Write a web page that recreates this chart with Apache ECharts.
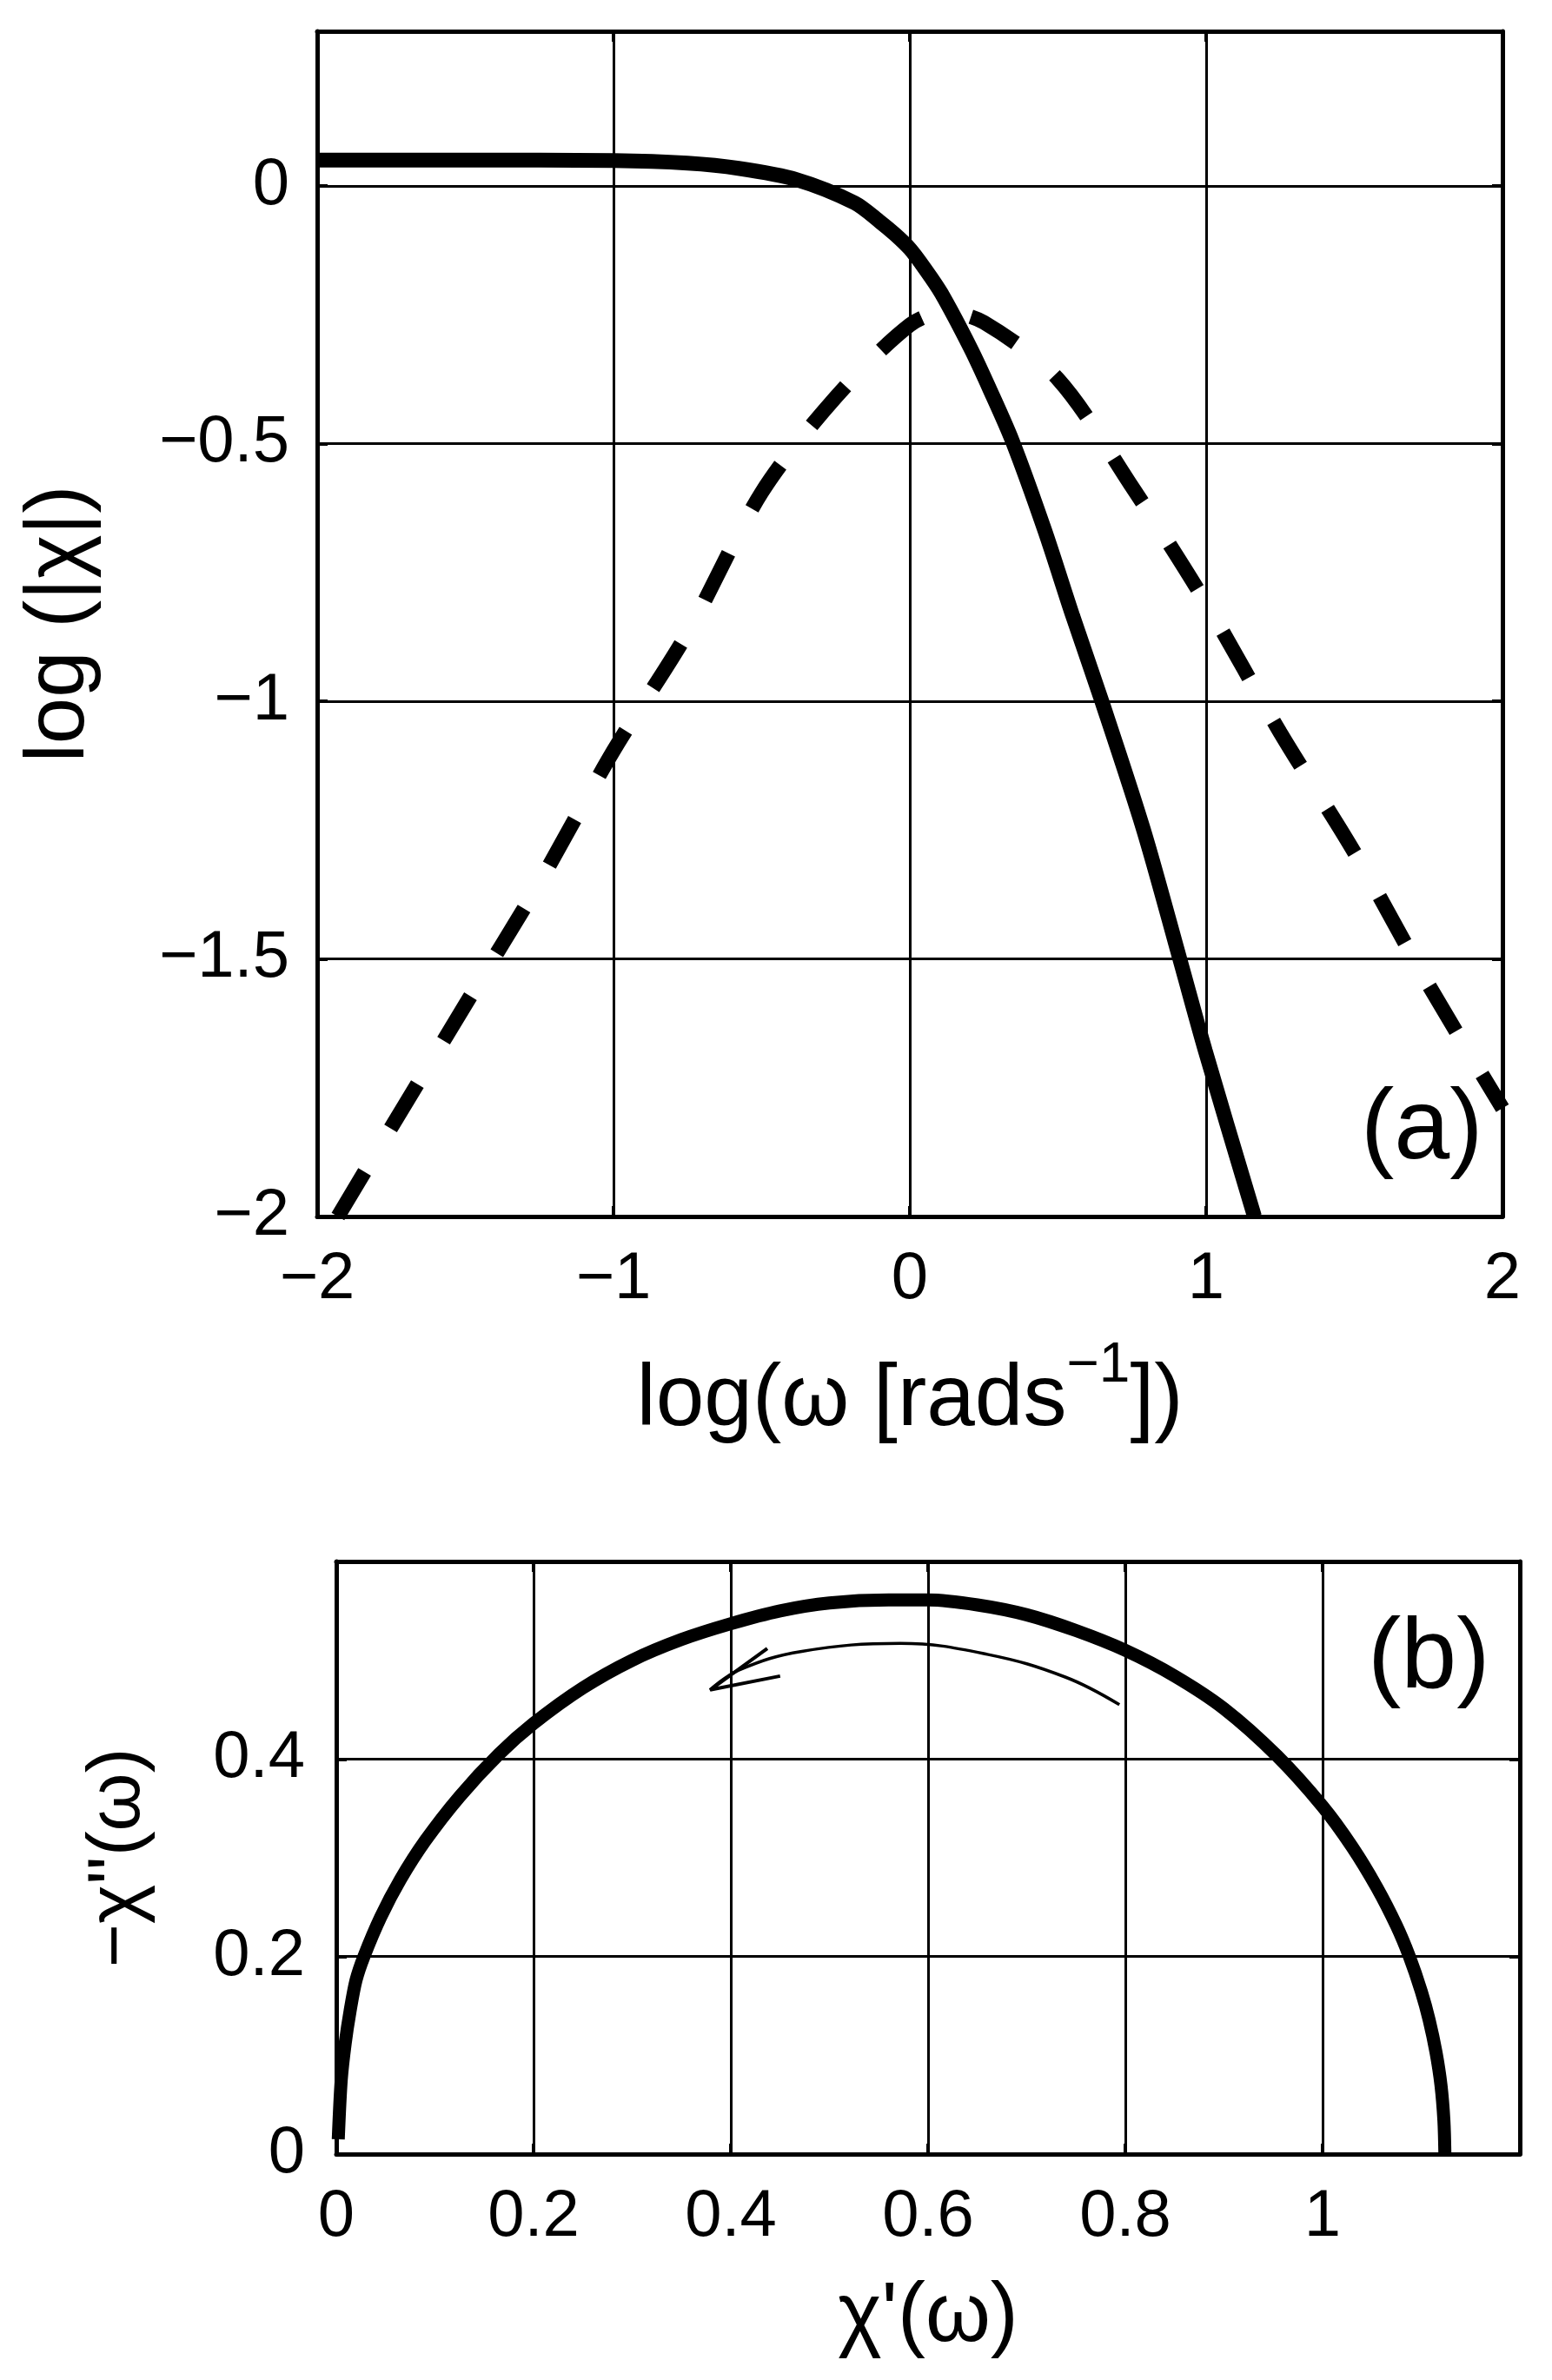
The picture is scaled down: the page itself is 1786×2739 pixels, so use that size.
<!DOCTYPE html>
<html>
<head>
<meta charset="utf-8">
<script src="https://cdn.jsdelivr.net/npm/echarts@6/dist/echarts.min.js"></script>
<style>
  html, body { margin: 0; padding: 0; background: #fff; }
  #main { width: 1786px; height: 2739px; }
</style>
</head>
<body>
<div id="main"></div>
<script>
// panel (a): log|chi| (solid) and log chi'' (dashed) against log(omega)
const magLogW = [-2, -1.5, -1, -0.75, -0.578, -0.381, -0.186, -0.1, -0.05, 0, 0.05, 0.106, 0.205, 0.27, 0.346, 0.455, 0.55, 0.648, 0.789, 0.911, 0.997, 1.163];
const magLogChi = [0.05, 0.05, 0.049, 0.044, 0.034, 0.012, -0.033, -0.07, -0.094, -0.122, -0.16, -0.208, -0.315, -0.395, -0.495, -0.668, -0.835, -1.0, -1.25, -1.5, -1.678, -2.0];

const lossLogW = [-1.93, -1.75, -1.5, -1.25, -1, -0.75, -0.5, -0.25, 0, 0.12, 0.25, 0.5, 0.75, 1, 1.25, 1.5, 1.75, 2];
const lossLogChi = [-2.0, -1.827, -1.589, -1.352, -1.096, -0.867, -0.595, -0.41, -0.27, -0.245, -0.265, -0.375, -0.584, -0.81, -1.061, -1.293, -1.55, -1.79];

// panel (b): Cole-Cole plot
const chiReal = [0.002, 0.005, 0.009, 0.014, 0.02, 0.028, 0.045, 0.065, 0.09, 0.125, 0.165, 0.2, 0.25, 0.3, 0.35, 0.4, 0.45, 0.5, 0.56, 0.6, 0.65, 0.7, 0.75, 0.8, 0.85, 0.9, 0.954, 1.0, 1.03, 1.055, 1.075, 1.088, 1.1, 1.108, 1.115, 1.12, 1.123, 1.124];
const chiImag = [0.015, 0.075, 0.112, 0.145, 0.176, 0.2, 0.24, 0.278, 0.317, 0.362, 0.405, 0.436, 0.472, 0.5, 0.521, 0.537, 0.55, 0.558, 0.561, 0.561, 0.556, 0.546, 0.53, 0.51, 0.484, 0.451, 0.403, 0.352, 0.311, 0.27, 0.231, 0.2, 0.165, 0.136, 0.103, 0.07, 0.034, 0.0];

// arrow drawn inside panel (b), in data units
const arrowReal = [0.794, 0.739, 0.66, 0.572, 0.472, 0.408, 0.379];
const arrowImag = [0.455, 0.483, 0.506, 0.517, 0.509, 0.49, 0.47];
const headReal = [0.437, 0.379, 0.45];
const headImag = [0.512, 0.47, 0.484];

const FONT = '"Liberation Sans", Arial, Helvetica, sans-serif';
const zip = (xs, ys) => xs.map((x, i) => [x, ys[i]]);
const fmt = v => String(+v.toFixed(2)).replace('-', '\u2212');

// axis line + inward ticks, used for every side of both boxes
function boxAxis(opts) {
  return Object.assign({
    type: 'value',
    axisLine: { show: true, onZero: false, lineStyle: { color: '#000', width: 5 } },
    axisTick: { show: true, inside: true, length: 12, lineStyle: { color: '#000', width: 4 } },
    axisLabel: { show: false },
    splitLine: { show: false }
  }, opts);
}

const labelStyle = { show: true, color: '#000', fontSize: 76, fontFamily: FONT, formatter: fmt };
const gridLine = { show: true, lineStyle: { color: '#000', width: 3 } };
const nameStyle = { color: '#000', fontSize: 96, fontFamily: FONT };

const chart = echarts.init(document.getElementById('main'));

const option = {
  animation: false,
  backgroundColor: '#fff',
  grid: [
    { left: 365, top: 36, width: 1364, height: 1364 },
    { left: 387, top: 1797, width: 1362, height: 682 }
  ],
  xAxis: [
    boxAxis({
      gridIndex: 0, position: 'bottom', min: -2, max: 2, interval: 1,
      axisLabel: Object.assign({}, labelStyle, { margin: 35 }),
      splitLine: gridLine,
      name: 'log(ω [rads{sup|−1}])',
      nameLocation: 'middle', nameGap: 140,
      nameTextStyle: Object.assign({}, nameStyle, {
        fontSize: 100,
        lineHeight: 144,
        rich: { sup: { fontSize: 64, fontFamily: FONT, color: '#000', lineHeight: 64, verticalAlign: 'top' } }
      })
    }),
    boxAxis({ gridIndex: 0, position: 'top', min: -2, max: 2, interval: 1 }),
    boxAxis({
      gridIndex: 1, position: 'bottom', min: 0, max: 1.2, interval: 0.2,
      axisLabel: Object.assign({}, labelStyle, { margin: 35, showMaxLabel: false }),
      splitLine: gridLine,
      name: 'χ\'(ω)',
      nameLocation: 'middle', nameGap: 141,
      nameTextStyle: nameStyle
    }),
    boxAxis({ gridIndex: 1, position: 'top', min: 0, max: 1.2, interval: 0.2 })
  ],
  yAxis: [
    boxAxis({
      gridIndex: 0, position: 'left', min: -2, max: 0.3, interval: 0.5,
      axisLabel: Object.assign({}, labelStyle, { margin: 32, showMaxLabel: false }),
      splitLine: gridLine,
      name: 'log (|χ|)',
      nameLocation: 'middle', nameGap: 247,
      nameTextStyle: nameStyle
    }),
    boxAxis({ gridIndex: 0, position: 'right', min: -2, max: 0.3, interval: 0.5 }),
    boxAxis({
      gridIndex: 1, position: 'left', min: 0, max: 0.6, interval: 0.2,
      axisLabel: Object.assign({}, labelStyle, { margin: 36, showMaxLabel: false }),
      splitLine: gridLine,
      name: '−χ\'\'(ω)',
      nameLocation: 'middle', nameGap: 208,
      nameTextStyle: Object.assign({}, nameStyle, { fontSize: 86 })
    }),
    boxAxis({ gridIndex: 1, position: 'right', min: 0, max: 0.6, interval: 0.2 })
  ],
  series: [
    {
      name: '|chi|', type: 'line', xAxisIndex: 0, yAxisIndex: 0,
      data: zip(magLogW, magLogChi), showSymbol: false, smooth: 0.3,
      lineStyle: { color: '#000', width: 17 }, z: 5
    },
    {
      name: 'chi2', type: 'line', xAxisIndex: 0, yAxisIndex: 0,
      data: zip(lossLogW, lossLogChi), showSymbol: false, smooth: 0.3,
      lineStyle: { color: '#000', width: 17, type: [60, 58] }, z: 5
    },
    {
      name: 'cole', type: 'line', xAxisIndex: 2, yAxisIndex: 2,
      data: zip(chiReal, chiImag), showSymbol: false, smooth: 0.3,
      lineStyle: { color: '#000', width: 15 }, z: 5
    },
    {
      name: 'arrow', type: 'line', xAxisIndex: 2, yAxisIndex: 2,
      data: zip(arrowReal, arrowImag), showSymbol: false, smooth: 0.4,
      lineStyle: { color: '#000', width: 3.5 }, z: 5
    },
    {
      name: 'arrowhead', type: 'line', xAxisIndex: 2, yAxisIndex: 2,
      data: zip(headReal, headImag), showSymbol: false,
      lineStyle: { color: '#000', width: 4 }, z: 5
    }
  ],
  graphic: [
    { type: 'text', left: 1637 - 71, top: 1298 - 54, z: 10,
      style: { text: '(a)', fontSize: 115, fontFamily: FONT, fill: '#000' } },
    { type: 'text', left: 1645 - 71, top: 1915 - 62, z: 10,
      style: { text: '(b)', fontSize: 115, fontFamily: FONT, fill: '#000' } }
  ]
};

chart.setOption(option);
</script>
</body>
</html>
